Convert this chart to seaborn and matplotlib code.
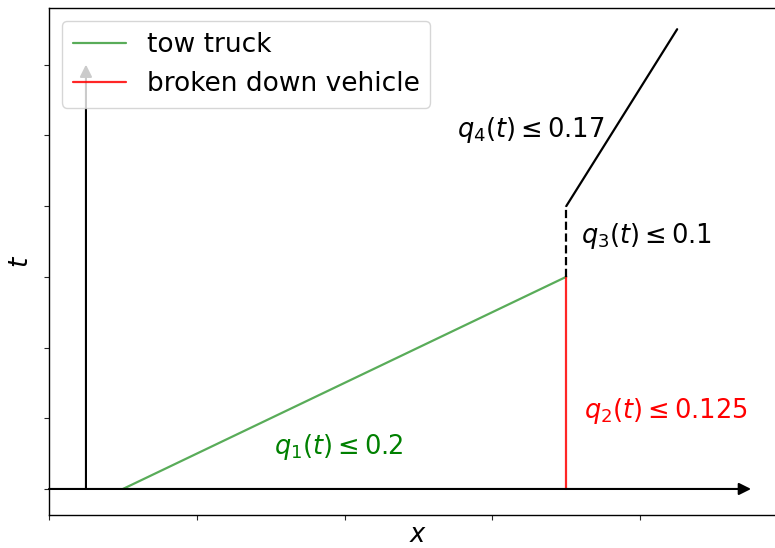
import matplotlib
matplotlib.use("Agg")
import matplotlib.pyplot as plt
import seaborn as sns
import pandas as pd

# Data
x_tow = [0.5, 3.5]
t_tow = [0.0, 3.0]
x_broken = [3.5, 3.5]
t_broken = [0.0, 3.0]
x_wait = [3.5, 3.5]
t_wait = [3.0, 4.0]
x_after = [3.5, 4.25]
t_after = [4.0, 6.5]
x_ticks = [0, 1, 2, 3, 4]
t_ticks = [0, 1, 2, 3, 4, 5, 6]
labels = ["tow truck", "broken down vehicle"]

sns.set_style("ticks")
plt.rcParams['font.family'] = ['DejaVu Sans']
plt.rcParams['text.color'] = 'black'
plt.rcParams['axes.labelcolor'] = 'black'

fig = plt.figure(figsize=(7.75, 5.48), dpi=100)
ax = fig.add_axes([49/775, 33/548, (788-49)/775, 507/548])

sns.lineplot(data=pd.DataFrame({"x": x_tow, "t": t_tow}), x="x", y="t", ax=ax,
             color="green", alpha=0.65, lw=1.6, label=labels[0], estimator=None)
sns.lineplot(data=pd.DataFrame({"x": x_broken, "t": t_broken}), x="x", y="t", ax=ax,
             color="red", alpha=0.85, lw=1.6, label=labels[1], sort=False,
             estimator=None)
sns.lineplot(data=pd.DataFrame({"x": x_wait, "t": t_wait}), x="x", y="t", ax=ax,
             color="black", lw=1.6, linestyle="--", sort=False, estimator=None)
sns.lineplot(data=pd.DataFrame({"x": x_after, "t": t_after}), x="x", y="t", ax=ax,
             color="black", lw=1.6, estimator=None)

# axis arrows
ax.annotate("", xy=(4.75, 0), xytext=(0, 0),
            arrowprops=dict(arrowstyle="-|>", color="black", lw=1.5,
                            mutation_scale=18, shrinkA=0, shrinkB=0))
ax.annotate("", xy=(0.25, 6.0), xytext=(0.25, 0),
            arrowprops=dict(arrowstyle="-|>", color="black", lw=1.5,
                            mutation_scale=18, shrinkA=0, shrinkB=0))

fs = 18.5
ax.text(1.96, 0.59, r"$q_1(t) \leq 0.2$", color="green", fontsize=fs,
        ha="center", va="center")
ax.text(3.62, 1.1, r"$q_2(t) \leq 0.125$", color="red", fontsize=fs,
        ha="left", va="center")
ax.text(3.6, 3.58, r"$q_3(t) \leq 0.1$", color="black", fontsize=fs,
        ha="left", va="center")
ax.text(3.76, 5.08, r"$q_4(t) \leq 0.17$", color="black", fontsize=fs,
        ha="right", va="center")

ax.set_xlim(0, 5)
ax.set_ylim(-0.368, 6.8)
ax.set_xticks(x_ticks)
ax.set_yticks(t_ticks)
ax.set_xticklabels([])
ax.set_yticklabels([])
ax.set_xlabel("$x$", fontsize=18.5, labelpad=-2)
ax.set_ylabel("$t$", fontsize=19)
leg = ax.legend(loc="upper left", fontsize=19)
for s in ["left", "bottom", "top", "right"]:
    ax.spines[s].set_visible(True)
    ax.spines[s].set_color("black")
    ax.spines[s].set_linewidth(1.0)

fig.savefig("out.png", dpi=100)
